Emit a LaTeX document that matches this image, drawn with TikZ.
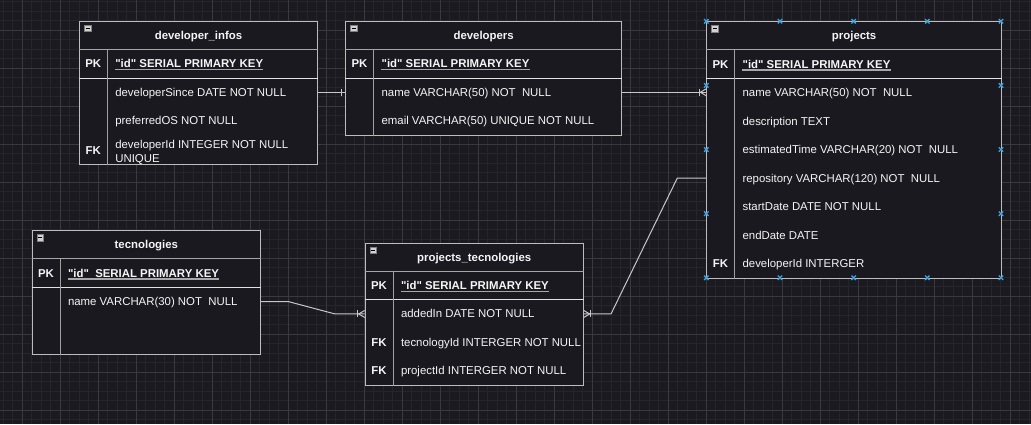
\documentclass[tikz,border=0pt]{standalone}
\usepackage{fontspec}
\newfontfamily\lsans{Liberation Sans}
\definecolor{bgc}{HTML}{1B1A21}
\definecolor{gridminor}{HTML}{26252C}
\definecolor{gridmajor}{HTML}{3A3940}
\definecolor{tblfill}{HTML}{1A1920}
\definecolor{outerc}{HTML}{BDBDBD}
\definecolor{hdrline}{HTML}{A6A6A6}
\definecolor{pklinec}{HTML}{E2E2E2}
\definecolor{divc}{HTML}{A0A0A0}
\definecolor{connc}{HTML}{C8C8C8}
\definecolor{fgc}{HTML}{F5F5F5}
\definecolor{handlec}{HTML}{3EA3DC}
\definecolor{ulc}{HTML}{A8A8A8}
\definecolor{minusfill}{HTML}{D2D2D2}
\tikzset{
  tbl/.style={draw=outerc, fill=tblfill, line width=1pt, anchor=north west, inner sep=0pt},
  txt/.style={inner sep=0pt, text height=10pt, text depth=2pt, text=fgc},
  field/.style={txt, anchor=west},
  keylbl/.style={txt, font=\lsans\fontsize{11.4}{14}\selectfont\bfseries},
  ttl/.style={txt, font=\lsans\fontsize{11.4}{14}\selectfont\bfseries},
  pkf/.style={field, font=\lsans\fontsize{11.4}{14}\selectfont\bfseries},
  hdrl/.style={draw=hdrline, line width=1pt},
  pkl/.style={draw=pklinec, line width=1pt},
  divl/.style={draw=divc, line width=1pt},
  conn/.style={draw=connc, line width=1pt},
  uline/.style={draw=ulc, line width=1.2pt},
  handlex/.style={draw=handlec, line width=1.3pt},
  minusbox/.style={draw=gray, fill=minusfill, line width=0.5pt, minimum size=6.5pt, inner sep=0pt,
    path picture={\draw[black, line width=0.9pt] ([xshift=1.3pt]path picture bounding box.west) -- ([xshift=-1.3pt]path picture bounding box.east);}},
  pics/onemany/.style={code={
    \draw[conn] (-7,-3.5) -- (-7,3.5);
    \draw[conn] (0,-3.5) -- (-6,0) -- (0,3.5);}}
}
\begin{document}
\begin{tikzpicture}[x=1pt, y=-1pt, font=\lsans\fontsize{11.4}{14}\selectfont]
\useasboundingbox (0,0) rectangle (1031,424);
\fill[bgc] (0,0) rectangle (1031,424);
% grid
\foreach \i in {0,...,108} \draw[gridminor, line width=0.8pt] ({3.3+9.5*\i},0) -- ({3.3+9.5*\i},424);
\foreach \j in {0,...,44} \draw[gridminor, line width=0.8pt] (0,{1.8+9.5*\j}) -- (1031,{1.8+9.5*\j});
\foreach \i in {0,...,26} \draw[gridmajor, line width=0.9pt] ({22.3+38*\i},0) -- ({22.3+38*\i},424);
\foreach \j in {0,...,10} \draw[gridmajor, line width=0.9pt] (0,{30.3+38*\j}) -- (1031,{30.3+38*\j});

% ---------------- developer_infos
\node[tbl, minimum width=238pt, minimum height=142.5pt] (di) at (79,21) {};
\draw[hdrl] ([yshift=-28.5pt]di.north west) -- ([yshift=-28.5pt]di.north east);
\draw[pkl] ([yshift=-57pt]di.north west) -- ([yshift=-57pt]di.north east);
\draw[divl] ([xshift=28.5pt,yshift=-28.5pt]di.north west) -- ([xshift=28.5pt]di.south west);
\node[minusbox] (di-m) at ([xshift=8.6pt,yshift=-7.3pt]di.north west) {};
\node[ttl] (di-t) at ([yshift=-14.6pt]di.north) {developer\_infos};
\node[keylbl] (di-pkk) at ([xshift=14.25pt,yshift=-42.75pt]di.north west) {PK};
\node[pkf] (di-pk) at ([xshift=36.1pt,yshift=-42.75pt]di.north west) {"id" SERIAL PRIMARY KEY};
\draw[uline] ([yshift=0.3pt]di-pk.south west) -- ([yshift=0.3pt]di-pk.south east);
\node[field] (di-r1) at ([xshift=36.1pt,yshift=-71.25pt]di.north west) {developerSince DATE NOT NULL};
\node[field] (di-r2) at ([xshift=36.1pt,yshift=-99.75pt]di.north west) {preferredOS NOT NULL};
\node[keylbl] (di-fk) at ([xshift=14.25pt,yshift=-129pt]di.north west) {FK};
\node[field] (di-r3) at ([xshift=36.1pt,yshift=-123.3pt]di.north west) {developerId INTEGER NOT NULL};
\node[field] (di-r3b) at ([xshift=36.1pt,yshift=-137.3pt]di.north west) {UNIQUE};

% ---------------- developers
\node[tbl, minimum width=275.7pt, minimum height=114pt] (dev) at (345.3,21) {};
\draw[hdrl] ([yshift=-28.5pt]dev.north west) -- ([yshift=-28.5pt]dev.north east);
\draw[pkl] ([yshift=-57pt]dev.north west) -- ([yshift=-57pt]dev.north east);
\draw[divl] ([xshift=28.5pt,yshift=-28.5pt]dev.north west) -- ([xshift=28.5pt]dev.south west);
\node[minusbox] (dev-m) at ([xshift=8.6pt,yshift=-7.3pt]dev.north west) {};
\node[ttl] (dev-t) at ([yshift=-14.6pt]dev.north) {developers};
\node[keylbl] (dev-pkk) at ([xshift=14.25pt,yshift=-42.75pt]dev.north west) {PK};
\node[pkf] (dev-pk) at ([xshift=36.1pt,yshift=-42.75pt]dev.north west) {"id" SERIAL PRIMARY KEY};
\draw[uline] ([yshift=0.3pt]dev-pk.south west) -- ([yshift=0.3pt]dev-pk.south east);
\node[field] (dev-r1) at ([xshift=36.1pt,yshift=-71.25pt]dev.north west) {name VARCHAR(50) NOT\ \ NULL};
\node[field] (dev-r2) at ([xshift=36.1pt,yshift=-99.75pt]dev.north west) {email VARCHAR(50) UNIQUE NOT NULL};

% ---------------- projects
\node[tbl, minimum width=294.7pt, minimum height=256.5pt] (prj) at (706.3,21.3) {};
\draw[hdrl] ([yshift=-28.5pt]prj.north west) -- ([yshift=-28.5pt]prj.north east);
\draw[pkl] ([yshift=-57pt]prj.north west) -- ([yshift=-57pt]prj.north east);
\draw[divl] ([xshift=28.5pt,yshift=-28.5pt]prj.north west) -- ([xshift=28.5pt]prj.south west);
\node[minusbox] (prj-m) at ([xshift=8.6pt,yshift=-7.3pt]prj.north west) {};
\node[ttl] (prj-t) at ([yshift=-14.6pt]prj.north) {projects};
\node[keylbl] (prj-pkk) at ([xshift=14.25pt,yshift=-42.75pt]prj.north west) {PK};
\node[pkf] (prj-pk) at ([xshift=36.1pt,yshift=-42.75pt]prj.north west) {"id" SERIAL PRIMARY KEY};
\draw[uline] ([yshift=0.3pt]prj-pk.south west) -- ([yshift=0.3pt]prj-pk.south east);
\node[field] (prj-r1) at ([xshift=36.1pt,yshift=-71.25pt]prj.north west) {name VARCHAR(50) NOT\ \ NULL};
\node[field] (prj-r2) at ([xshift=36.1pt,yshift=-99.75pt]prj.north west) {description TEXT};
\node[field] (prj-r3) at ([xshift=36.1pt,yshift=-128.25pt]prj.north west) {estimatedTime VARCHAR(20) NOT\ \ NULL};
\node[field] (prj-r4) at ([xshift=36.1pt,yshift=-156.75pt]prj.north west) {repository VARCHAR(120) NOT\ \ NULL};
\node[field] (prj-r5) at ([xshift=36.1pt,yshift=-185.25pt]prj.north west) {startDate DATE NOT NULL};
\node[field] (prj-r6) at ([xshift=36.1pt,yshift=-213.75pt]prj.north west) {endDate DATE};
\node[keylbl] (prj-fk) at ([xshift=14.25pt,yshift=-242.25pt]prj.north west) {FK};
\node[field] (prj-r7) at ([xshift=36.1pt,yshift=-242.25pt]prj.north west) {developerId INTERGER};

% ---------------- tecnologies
\node[tbl, minimum width=228.3pt, minimum height=123.4pt] (tec) at (31.7,230.3) {};
\draw[hdrl] ([yshift=-28.5pt]tec.north west) -- ([yshift=-28.5pt]tec.north east);
\draw[pkl] ([yshift=-57pt]tec.north west) -- ([yshift=-57pt]tec.north east);
\draw[divl] ([xshift=28.5pt,yshift=-28.5pt]tec.north west) -- ([xshift=28.5pt]tec.south west);
\node[minusbox] (tec-m) at ([xshift=8.6pt,yshift=-7.3pt]tec.north west) {};
\node[ttl] (tec-t) at ([yshift=-14.6pt]tec.north) {tecnologies};
\node[keylbl] (tec-pkk) at ([xshift=14.25pt,yshift=-42.75pt]tec.north west) {PK};
\node[pkf] (tec-pk) at ([xshift=36.1pt,yshift=-42.75pt]tec.north west) {"id"\ \ SERIAL PRIMARY KEY};
\draw[uline] ([yshift=0.3pt]tec-pk.south west) -- ([yshift=0.3pt]tec-pk.south east);
\node[field] (tec-r1) at ([xshift=36.1pt,yshift=-71.25pt]tec.north west) {name VARCHAR(30) NOT\ \ NULL};

% ---------------- projects_tecnologies
\node[tbl, minimum width=218pt, minimum height=142.3pt] (pt) at (364.7,242.7) {};
\draw[hdrl] ([yshift=-28.5pt]pt.north west) -- ([yshift=-28.5pt]pt.north east);
\draw[pkl] ([yshift=-57pt]pt.north west) -- ([yshift=-57pt]pt.north east);
\draw[divl] ([xshift=28.5pt,yshift=-28.5pt]pt.north west) -- ([xshift=28.5pt]pt.south west);
\node[minusbox] (pt-m) at ([xshift=8.6pt,yshift=-7.3pt]pt.north west) {};
\node[ttl] (pt-t) at ([yshift=-14.6pt]pt.north) {projects\_tecnologies};
\node[keylbl] (pt-pkk) at ([xshift=14.25pt,yshift=-42.75pt]pt.north west) {PK};
\node[pkf] (pt-pk) at ([xshift=36.1pt,yshift=-42.75pt]pt.north west) {"id" SERIAL PRIMARY KEY};
\draw[uline] ([yshift=0.3pt]pt-pk.south west) -- ([yshift=0.3pt]pt-pk.south east);
\node[field] (pt-r1) at ([xshift=36.1pt,yshift=-71.25pt]pt.north west) {addedIn DATE NOT NULL};
\node[keylbl] (pt-fk1) at ([xshift=14.25pt,yshift=-99.75pt]pt.north west) {FK};
\node[field] (pt-r2) at ([xshift=36.1pt,yshift=-99.75pt]pt.north west) {tecnologyId INTERGER NOT NULL};
\node[keylbl] (pt-fk2) at ([xshift=14.25pt,yshift=-128.25pt]pt.north west) {FK};
\node[field] (pt-r3) at ([xshift=36.1pt,yshift=-128.25pt]pt.north west) {projectId INTERGER NOT NULL};

% ---------------- connectors
% developer_infos -> developers
\coordinate (c1s) at (di.east |- di-r1);
\coordinate (c1e) at (dev.west |- di-r1);
\draw[conn] (c1s) -- (c1e);
\draw[conn] ([xshift=-3.6pt]c1e) ++(0,-3.3) -- ++(0,6.6);
% developers -> projects
\coordinate (c2s) at (dev.east |- dev-r1);
\coordinate (c2e) at (prj.west |- dev-r1);
\draw[conn] (c2s) -- (c2e);
\pic at (c2e) {onemany};
% tecnologies -> projects_tecnologies
\coordinate (c3s) at (tec.east |- tec-r1);
\coordinate (c3a) at (288.3,301.55);
\coordinate (c3b) at (335,313.95);
\coordinate (c3e) at (pt.west |- pt-r1);
\draw[conn] (c3s) -- (c3a) -- (c3b) -- (c3e);
\pic at (c3e) {onemany};
% projects_tecnologies -> projects
\coordinate (c4s) at (pt.east |- pt-r1);
\coordinate (c4a) at (611,313.95);
\coordinate (c4b) at (677.3,178.05);
\coordinate (c4e) at (prj.west |- prj-r4);
\draw[conn] (c4s) -- (c4a) -- (c4b) -- (c4e);
\pic[rotate=180] at (c4s) {onemany};

% selection handles on projects
\foreach \k in {0,...,4} {
  \foreach \yy in {21.3,277.8} {
    \draw[handlex] ({706.3+73.675*\k-2.2},{\yy-2.2}) -- ++(4.4,4.4) ({706.3+73.675*\k-2.2},{\yy+2.2}) -- ++(4.4,-4.4);
  }
}
\foreach \j in {1,2,3} {
  \foreach \xx in {706.3,1001} {
    \draw[handlex] ({\xx-2.2},{21.3+64.125*\j-2.2}) -- ++(4.4,4.4) ({\xx-2.2},{21.3+64.125*\j+2.2}) -- ++(4.4,-4.4);
  }
}
\end{tikzpicture}
\end{document}
